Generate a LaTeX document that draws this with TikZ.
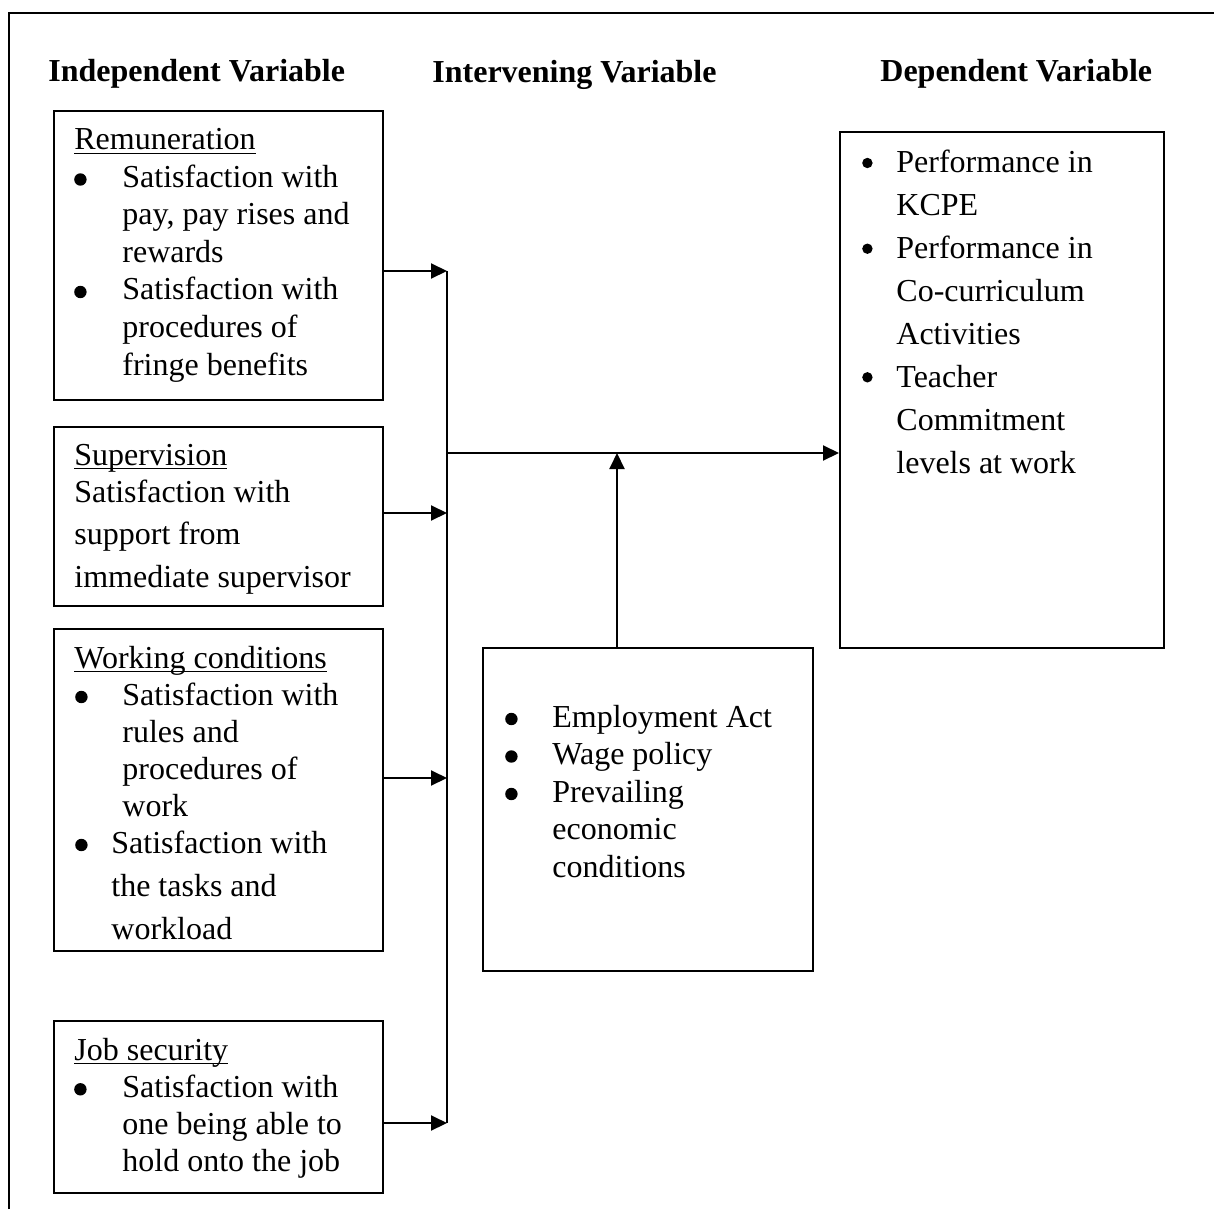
\documentclass[tikz,border=0pt]{standalone}
\usepackage{fontspec}
\setmainfont{Liberation Serif}
\usetikzlibrary{arrows.meta}
\newcommand\bulrad{3.1pt}
\newcommand\bulup{4pt}
\newcommand\bul[2]{\makebox[#2][l]{\hspace*{#1}\makebox[0pt][c]{\tikz[baseline=0pt]\fill (0pt,\bulup) circle[radius=\bulrad];}}}
\newcommand\ulx[1]{\setbox0\hbox{#1}\rlap{\rule[-2.2pt]{\wd0}{0.9pt}}\box0}
\begin{document}
\begin{tikzpicture}[x=0.5pt,y=-0.5pt,
  box/.style={draw, line width=1pt, inner sep=0pt, anchor=north west},
  txt/.style={inner sep=0pt, anchor=base west},
  head/.style={txt, font=\fontsize{16}{19}\selectfont\bfseries},
  arr/.style={line width=1pt, -{Triangle[length=8pt,width=7.5pt]}},
  bus/.style={line width=1pt}]
\useasboundingbox (0,0) rectangle (1214,1209);
\draw[line width=0.8pt] (9,1209) -- (9,13) -- (1214,13);

% headers
\node[head] (hind) at (48,82) {Independent Variable};
\node[head] (hint) at (432,83) {Intervening Variable};
\node[head] (hdep) at (880,82) {Dependent Variable};

% boxes
\node[box, minimum width=164.5pt, minimum height=144.5pt] (rem) at (53,110) {};
\node[box, minimum width=164.5pt, minimum height=89.5pt] (sup) at (53,426) {};
\node[box, minimum width=164.5pt, minimum height=161pt] (work) at (53,628) {};
\node[box, minimum width=164.5pt, minimum height=86pt] (job) at (53,1020) {};
\node[box, minimum width=165pt, minimum height=161.5pt] (inter) at (482,647) {};
\node[box, minimum width=162pt, minimum height=258pt] (dep) at (839,131) {};

% texts
\node[txt] (trem) at (74,150) {\fontsize{16}{18.75}\selectfont\begin{tabular}[t]{@{}l@{}}
\ulx{Remuneration}\\
\bul{3pt}{24pt}Satisfaction with\\
\hspace*{24pt}pay, pay rises and\\
\hspace*{24pt}rewards\\
\bul{3pt}{24pt}Satisfaction with\\
\hspace*{24pt}procedures of\\
\hspace*{24pt}fringe benefits
\end{tabular}};

\node[txt] (tsup) at (74,465) {\fontsize{16}{18.5}\selectfont\begin{tabular}[t]{@{}l@{}}
\ulx{Supervision}\\
Satisfaction with\\[2.5pt]
support from\\[3pt]
immediate supervisor
\end{tabular}};

\node[txt] (twork) at (74,668) {\fontsize{16}{18.5}\selectfont\begin{tabular}[t]{@{}l@{}}
\ulx{Working conditions}\\
\bul{3.5pt}{24pt}Satisfaction with\\
\hspace*{24pt}rules and\\
\hspace*{24pt}procedures of\\
\hspace*{24pt}work\\
\bul{3.5pt}{18.5pt}Satisfaction with\\[3pt]
\hspace*{18.5pt}the tasks and\\[3pt]
\hspace*{18.5pt}workload
\end{tabular}};

\node[txt] (tjob) at (74,1060) {\fontsize{16}{18.65}\selectfont\begin{tabular}[t]{@{}l@{}}
\ulx{Job security}\\
\bul{3pt}{24pt}Satisfaction with\\
\hspace*{24pt}one being able to\\
\hspace*{24pt}hold onto the job
\end{tabular}};

\node[txt] (tint) at (505,727) {\fontsize{16}{18.75}\selectfont\begin{tabular}[t]{@{}l@{}}
\bul{3pt}{23.5pt}Employment Act\\
\bul{3pt}{23.5pt}Wage policy\\
\bul{3pt}{23.5pt}Prevailing\\
\hspace*{23.5pt}economic\\
\hspace*{23.5pt}conditions
\end{tabular}};

\node[txt] (tdep) at (861,173) {\renewcommand\bulrad{2.6pt}\renewcommand\bulup{5pt}\fontsize{16}{21.43}\selectfont\begin{tabular}[t]{@{}l@{}}
\bul{3pt}{17.5pt}Performance in\\
\hspace*{17.5pt}KCPE\\
\bul{3pt}{17.5pt}Performance in\\
\hspace*{17.5pt}Co-curriculum\\
\hspace*{17.5pt}Activities\\
\bul{3pt}{17.5pt}Teacher\\
\hspace*{17.5pt}Commitment\\
\hspace*{17.5pt}levels at work
\end{tabular}};

% connectors
\coordinate (b1) at (447,271);
\coordinate (b2) at (447,513);
\coordinate (b3) at (447,778);
\coordinate (b4) at (447,1123);
\coordinate (hb) at (447,453);
\coordinate (up) at (617,453);
\draw[bus] (b1) -- (b4);
\draw[arr] (rem.east |- b1) -- (b1);
\draw[arr] (sup.east |- b2) -- (b2);
\draw[arr] (work.east |- b3) -- (b3);
\draw[arr] (job.east |- b4) -- (b4);
\draw[arr] (hb) -- (dep.west |- hb);
\draw[arr] (inter.north -| up) -- (up);
\end{tikzpicture}
\end{document}
